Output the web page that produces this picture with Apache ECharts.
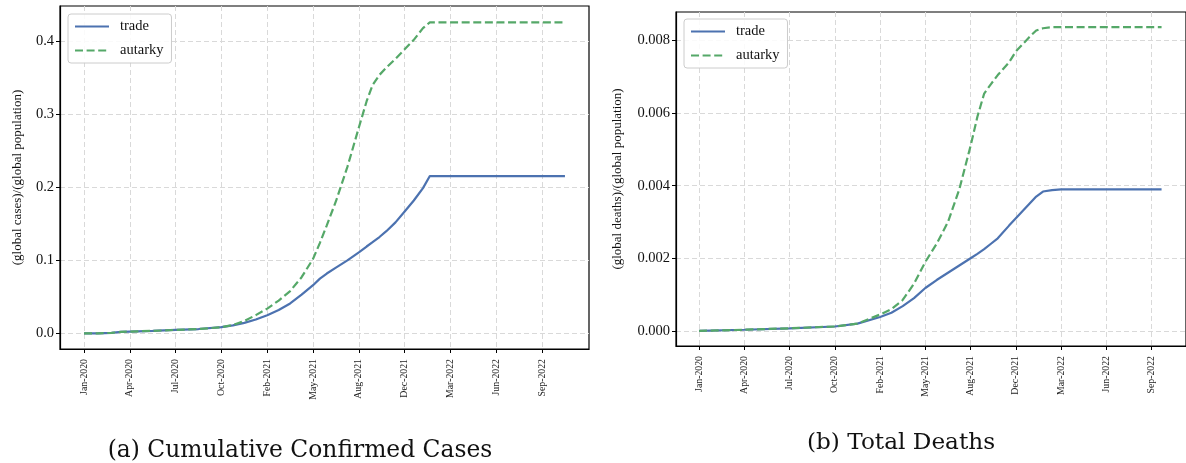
<!DOCTYPE html>
<html>
<head>
<meta charset="utf-8">
<script src="https://cdn.jsdelivr.net/npm/echarts@6/dist/echarts.min.js"></script>
<style>
html,body{margin:0;padding:0;background:#fff;}
#c{width:1186px;height:463px;}
</style>
</head>
<body>
<div id="c"></div>
<script>
// tick labels (x positions are in tick-index units: 0 = Jan-2020 ... 10 = Sep-2022)
var tickLabels = ['Jan-2020','Apr-2020','Jul-2020','Oct-2020','Feb-2021','May-2021','Aug-2021','Dec-2021','Mar-2022','Jun-2022','Sep-2022'];
var tickPositions = [0,1,2,3,4,5,6,7,8,9,10];

// (a) cumulative confirmed cases
var casesX       = [0, 0.3, 0.6, 0.8, 1, 1.5, 2, 2.5, 3, 3.25, 3.5, 3.75, 4.0, 4.25, 4.5, 4.75, 5.0, 5.15, 5.3, 5.5, 5.75, 6.0, 6.17, 6.3, 6.45, 6.6, 6.8, 7.0, 7.2, 7.4, 7.55, 8, 9, 10, 10.5];
var casesTrade   = [0, 0, 0.0008, 0.002, 0.0025, 0.0035, 0.0048, 0.006, 0.0085, 0.011, 0.0145, 0.019, 0.025, 0.032, 0.041, 0.053, 0.066, 0.075, 0.082, 0.090, 0.100, 0.111, 0.119, 0.125, 0.132, 0.140, 0.152, 0.167, 0.182, 0.199, 0.2155, 0.2155, 0.2155, 0.2155, 0.2155];
var casesAutarky = [0, 0, 0.0008, 0.002, 0.0025, 0.0035, 0.0048, 0.006, 0.0085, 0.0115, 0.017, 0.025, 0.034, 0.045, 0.058, 0.077, 0.102, 0.124, 0.148, 0.181, 0.228, 0.282, 0.318, 0.340, 0.354, 0.364, 0.376, 0.389, 0.402, 0.418, 0.426, 0.426, 0.426, 0.426, 0.426];
var casesTicks   = [0, 0.1, 0.2, 0.3, 0.4];

// (b) total deaths
var deathsX       = [0, 1, 2, 3, 3.5, 4, 4.25, 4.5, 4.75, 5.0, 5.25, 5.5, 5.75, 6.0, 6.15, 6.3, 6.45, 6.6, 6.85, 7.0, 7.15, 7.3, 7.45, 7.6, 7.8, 8.0, 9, 10, 10.22];
var deathsTrade   = [0, 0.00003, 0.00007, 0.00012, 0.0002, 0.00038, 0.0005, 0.00068, 0.0009, 0.00118, 0.0014, 0.0016, 0.0018, 0.002, 0.00212, 0.00225, 0.0024, 0.00255, 0.0029, 0.0031, 0.0033, 0.0035, 0.0037, 0.00384, 0.00388, 0.0039, 0.0039, 0.0039, 0.0039];
var deathsAutarky = [0, 0.00003, 0.00007, 0.00012, 0.0002, 0.00045, 0.0006, 0.00085, 0.0013, 0.0019, 0.0024, 0.0030, 0.0039, 0.0051, 0.0059, 0.00654, 0.0068, 0.00705, 0.0074, 0.0077, 0.0079, 0.0081, 0.00828, 0.00834, 0.00837, 0.00837, 0.00837, 0.00837, 0.00837];
var deathsTicks   = [0, 0.002, 0.004, 0.006, 0.008];

function pairs(xs, ys){ return xs.map(function(x,i){ return [x, ys[i]]; }); }

var SERIF = 'Liberation Serif';
var BLUE = '#4C72B0', GREEN = '#55A868';
var gridLine = {show:true, lineStyle:{color:'#d9d9d9', type:[5,3], width:1}};

function xAxis(gi, min, max){
  return {
    type:'value', gridIndex:gi, min:min, max:max,
    axisLine:{show:true, onZero:false, lineStyle:{color:'#000', width:1.2}},
    axisTick:{show:true, length:4, inside:false, customValues:tickPositions, lineStyle:{color:'#000', width:1}},
    axisLabel:{customValues:tickPositions, rotate:90, fontFamily:SERIF, fontSize:9.8, color:'#222', margin:10,
      formatter:function(v){ var i=Math.round(v); return tickLabels[i]||''; }},
    splitLine:gridLine
  };
}
function yAxis(gi, min, max, ticks, dec, name, gap){
  return {
    type:'value', gridIndex:gi, min:min, max:max,
    name:name, nameLocation:'middle', nameGap:gap, nameRotate:90,
    nameTextStyle:{fontFamily:SERIF, fontSize:13, color:'#111'},
    axisLine:{show:true, onZero:false, lineStyle:{color:'#000', width:1.2}},
    axisTick:{show:true, length:4, inside:false, customValues:ticks, lineStyle:{color:'#000', width:1}},
    axisLabel:{customValues:ticks, fontFamily:SERIF, fontSize:14.5, color:'#111', margin:6,
      formatter:function(v){ return v.toFixed(dec); }},
    splitLine:gridLine
  };
}
function legend(left, top){
  return {
    data:['trade','autarky'], orient:'vertical', left:left, top:top,
    itemWidth:34, itemHeight:14, itemGap:9,
    padding:[5,8,5,6],
    itemStyle:{opacity:0, borderWidth:0},
    backgroundColor:'rgba(255,255,255,0.85)', borderColor:'#cccccc', borderWidth:1, borderRadius:3,
    textStyle:{fontFamily:SERIF, fontSize:14.5, color:'#111', padding:[0,0,0,6]}
  };
}

var chart = echarts.init(document.getElementById('c'), null, {renderer:'canvas'});
chart.setOption({
  animation:false,
  backgroundColor:'#fff',
  grid:[
    {left:60, top:6, width:529, height:343, show:true, borderColor:'#000', borderWidth:1.2, backgroundColor:'transparent'},
    {left:676, top:12, width:528, height:334, show:true, borderColor:'#000', borderWidth:1.2, backgroundColor:'transparent'}
  ],
  xAxis:[ xAxis(0, -0.525, 11.025), xAxis(1, -0.51, 10.76) ],
  yAxis:[
    yAxis(0, -0.02135, 0.44835, casesTicks, 1, '(global cases)/(global population)', 36),
    yAxis(1, -0.000418, 0.008788, deathsTicks, 3, '(global deaths)/(global population)', 52)
  ],
  legend:[ legend(68, 14), legend(684, 19) ],
  series:[
    {name:'trade', type:'line', xAxisIndex:0, yAxisIndex:0, data:pairs(casesX, casesTrade), symbol:'none', smooth:false, lineStyle:{color:BLUE, width:2.2}, itemStyle:{color:BLUE}, z:3},
    {name:'autarky', type:'line', xAxisIndex:0, yAxisIndex:0, data:pairs(casesX, casesAutarky), symbol:'none', smooth:false, lineStyle:{color:GREEN, width:2.2, type:[8,3.6]}, itemStyle:{color:GREEN}, z:4},
    {name:'trade', type:'line', xAxisIndex:1, yAxisIndex:1, data:pairs(deathsX, deathsTrade), symbol:'none', smooth:false, lineStyle:{color:BLUE, width:2.2}, itemStyle:{color:BLUE}, z:3},
    {name:'autarky', type:'line', xAxisIndex:1, yAxisIndex:1, data:pairs(deathsX, deathsAutarky), symbol:'none', smooth:false, lineStyle:{color:GREEN, width:2.2, type:[8,3.6]}, itemStyle:{color:GREEN}, z:4}
  ],
  graphic:[
    {type:'text', style:{text:'(a) Cumulative Confirmed Cases', font:'23.4px "DejaVu Serif"', fill:'#111', x:300, y:451, align:'center', verticalAlign:'middle'}},
    {type:'text', style:{text:'(b) Total Deaths', font:'23.2px "DejaVu Serif"', fill:'#111', x:901, y:443, align:'center', verticalAlign:'middle'}}
  ]
});
</script>
</body>
</html>
